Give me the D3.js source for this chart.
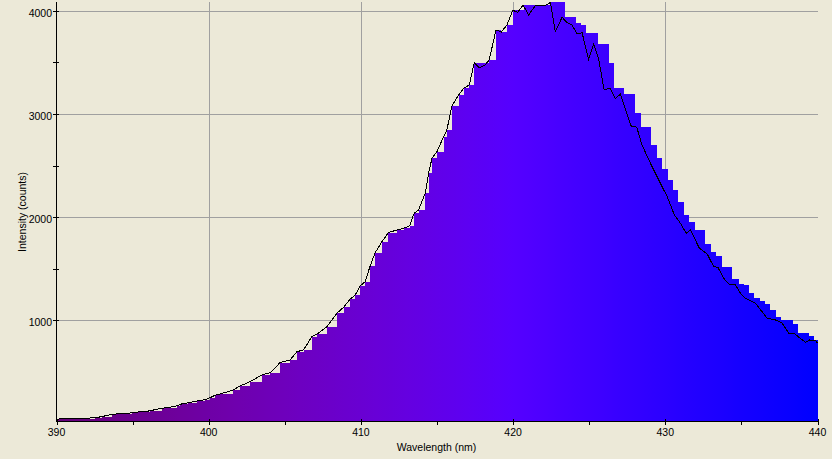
<!DOCTYPE html>
<html><head><meta charset="utf-8">
<script src="https://cdn.jsdelivr.net/npm/d3@7"></script>
<style>html,body{margin:0;padding:0;background:#ece9d8;overflow:hidden}svg{display:block}</style>
</head><body>
<svg id="c" width="832" height="459"></svg>
<script>
// ---- data ----
const lineWl = [390.00,390.82,391.55,392.53,392.97,393.63,394.29,394.72,394.94,395.82,396.15,396.92,397.25,397.90,398.12,398.67,399.22,399.76,400.09,400.42,400.75,401.62,402.06,402.72,403.49,404.04,404.69,405.35,405.79,406.23,406.78,407.11,407.76,408.42,408.86,409.30,409.63,409.95,410.28,410.61,410.94,411.38,411.81,412.37,412.80,413.20,413.50,413.79,414.23,414.45,414.67,415.00,415.43,415.65,415.98,416.42,416.75,417.12,417.45,417.78,418.17,418.43,418.88,419.22,419.60,419.97,420.30,420.65,421.02,421.46,422.12,422.45,422.77,423.22,423.50,423.87,424.20,424.53,424.96,425.29,425.62,425.98,426.36,426.72,427.05,427.74,428.12,428.47,429.02,429.57,430.12,430.60,430.99,431.37,431.65,432.24,432.75,433.18,433.45,433.84,434.17,434.61,434.94,435.27,435.93,436.69,437.24,437.68,438.11,438.44,439.21,439.49,439.87,440.00];
const lineVal = [40,50,46,55,65,88,94,91,108,113,123,146,152,169,185,201,217,230,249,273,285,324,363,404,469,492,589,615,695,712,841,864,938,1068,1126,1207,1245,1333,1374,1527,1656,1762,1850,1876,1892,1915,2038,2070,2232,2426,2571,2635,2781,2846,3079,3185,3250,3282,3499,3450,3476,3525,3816,3794,3864,4005,3988,4056,3961,4052,4052,4081,3797,3939,3892,3865,3777,3789,3532,3677,3535,3234,3250,3151,3192,2885,2873,2700,2523,2361,2199,2021,1941,1844,1876,1698,1643,1520,1514,1407,1352,1342,1262,1213,1165,1019,1003,971,874,874,787,809,802,777];

const barWl = [390.00,390.82,391.55,392.53,392.97,393.63,394.29,394.72,394.94,395.82,396.15,396.92,397.25,397.90,398.12,398.67,399.22,399.76,400.09,400.42,400.75,401.62,402.06,402.72,403.49,404.04,404.69,405.35,405.79,406.23,406.78,407.11,407.76,408.42,408.86,409.30,409.63,409.95,410.28,410.61,410.94,411.38,411.81,412.37,412.80,413.20,413.50,413.79,414.23,414.45,414.67,415.00,415.43,415.65,415.98,416.42,416.75,417.12,417.45,418.43,418.88,419.22,419.60,419.97,420.69,422.49,423.43,424.16,424.46,424.81,425.56,426.28,426.65,427.31,428.03,428.41,429.07,429.46,429.79,430.20,430.53,430.86,431.26,431.58,431.98,432.64,433.03,433.36,433.75,434.41,434.81,435.14,435.53,435.86,436.19,436.58,436.91,437.30,437.63,438.36,438.69,439.41,439.74];
const barVal = [40,50,46,55,65,88,94,91,108,113,123,146,152,169,185,201,217,230,249,273,285,324,363,404,469,492,589,615,695,712,841,864,938,1068,1126,1207,1245,1333,1374,1527,1656,1762,1850,1876,1892,1915,2038,2070,2232,2426,2571,2635,2781,2846,3079,3185,3250,3282,3499,3525,3816,3794,3864,4005,4054,4090,3945,3885,3864,3790,3680,3499,3256,3192,3008,2872,2700,2571,2468,2361,2264,2150,2021,1951,1876,1740,1660,1624,1520,1401,1352,1342,1268,1216,1187,1155,1100,1032,1003,964,877,848,809];

const xTicks = [390,400,410,420,430,440];
const xMinor = [395,405,415,425,435];
const yTicks = [1000,2000,3000,4000];
const yMinor = [1500,2500,3500];
const xTitle = "Wavelength (nm)";
const yTitle = "Intensity (counts)";

// ---- drawing ----
const svg = d3.select("#c");
const x = d3.scaleLinear().domain([390,440]).range([56.5,817.5]);
const y = d3.scaleLinear().domain([23,4095]).range([421,1.1]);
const font = "'Liberation Sans', Arial, sans-serif";

// wavelength -> colour
function wlColor(w){
  let r=0,g=0,b=0;
  if (w<440){ r=-(w-440)/(440-380); b=1; }
  else if (w<490){ g=(w-440)/50; b=1; }
  let f = 1;
  if (w<420) f = 0.3 + 0.7*(w-380)/40;
  return d3.rgb(Math.round(255*r*f), Math.round(255*g*f), Math.round(255*b*f)).toString();
}
const defs = svg.append("defs");
const grad = defs.append("linearGradient").attr("id","spec")
  .attr("gradientUnits","userSpaceOnUse")
  .attr("x1",x(390)).attr("x2",x(440)).attr("y1",0).attr("y2",0);
d3.range(390,440.01,1).forEach(w=>{
  grad.append("stop").attr("offset",((w-390)/50)).attr("stop-color",wlColor(w));
});

// grid
const grid = svg.append("g").attr("stroke","#a0a0a0").attr("stroke-width",1).attr("shape-rendering","crispEdges");
xTicks.filter(t=>t>390 && t<440).forEach(t=>{
  grid.append("line").attr("x1",Math.round(x(t))+0.5).attr("x2",Math.round(x(t))+0.5).attr("y1",2).attr("y2",421);
});
yTicks.forEach(t=>{
  const yy = Math.round(y(t))+0.5;
  grid.append("line").attr("x1",57).attr("x2",818).attr("y1",yy).attr("y2",yy);
});

// bars
const barData = barWl.map((w,i)=>[w,barVal[i]]);
barData.push([440, barVal[barVal.length-1]]);
const area = d3.area().x(d=>Math.round(x(d[0]))).y0(421).y1(d=>Math.round(y(d[1]))).curve(d3.curveStepAfter);
svg.append("path").datum(barData).attr("d",area).attr("fill","url(#spec)").attr("shape-rendering","crispEdges");

// line
const lineData = lineWl.map((w,i)=>[w,lineVal[i]]);
const line = d3.line().x(d=>x(d[0])).y(d=>y(d[1]));
svg.append("path").datum(lineData).attr("d",line).attr("fill","none").attr("stroke","#000").attr("stroke-width",1).attr("shape-rendering","crispEdges");

// axes
const ax = svg.append("g").attr("stroke","#000").attr("shape-rendering","crispEdges");
ax.append("line").attr("x1",56.5).attr("x2",56.5).attr("y1",2).attr("y2",421);
ax.append("line").attr("x1",56).attr("x2",818).attr("y1",421.5).attr("y2",421.5);
yTicks.concat(yMinor).forEach(t=>{
  const yy = Math.round(y(t))+0.5;
  ax.append("line").attr("x1",53).attr("x2",59).attr("y1",yy).attr("y2",yy);
});
xTicks.forEach(t=>{
  const xx = Math.round(x(t))+0.5;
  ax.append("line").attr("x1",xx).attr("x2",xx).attr("y1",419).attr("y2",425);
});
xMinor.forEach(t=>{
  const xx = Math.round(x(t))+0.5;
  ax.append("line").attr("x1",xx).attr("x2",xx).attr("y1",421).attr("y2",425);
});

const lab = svg.append("g").attr("font-family",font).attr("font-size","10.5px").attr("fill","#000");
yTicks.forEach(t=>{
  lab.append("text").attr("x",52).attr("y",Math.round(y(t))+5.5).attr("text-anchor","end").text(t);
});
xTicks.forEach(t=>{
  lab.append("text").attr("x",x(t)).attr("y",436).attr("text-anchor","middle").text(t);
});
lab.append("text").attr("x",436.5).attr("y",451).attr("text-anchor","middle").text(xTitle);
lab.append("text").attr("transform","translate(25.5,212) rotate(-90)").attr("text-anchor","middle").text(yTitle);
</script>
</body></html>
